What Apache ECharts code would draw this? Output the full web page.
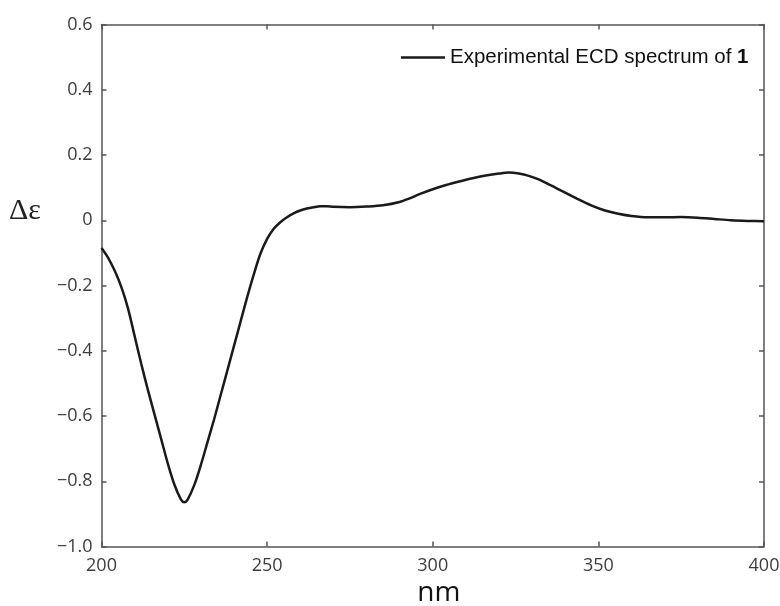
<!DOCTYPE html>
<html>
<head>
<meta charset="utf-8">
<script src="https://cdn.jsdelivr.net/npm/echarts@6/dist/echarts.min.js"></script>
<style>
html,body{margin:0;padding:0;background:#fff;}
#chart{width:780px;height:606px;}
</style>
</head>
<body>
<div id="chart"></div>
<script>
// Wavelength (nm)
const wavelengths = [200,202,204,206,208,210,212,214,216,218,220,222,224,225,226,228,230,232,234,236,238,240,242,244,246,248,250,252,254,256,258,260,262,264,266,268,270,275,280,285,290,293,296,300,304,308,312,316,320,323,326,329,332,336,340,344,348,352,356,360,365,370,375,380,385,390,395,400];
// Δε values
const deltaEps = [-0.085,-0.115,-0.155,-0.205,-0.27,-0.355,-0.44,-0.52,-0.595,-0.67,-0.745,-0.81,-0.856,-0.864,-0.856,-0.812,-0.75,-0.68,-0.61,-0.535,-0.46,-0.385,-0.31,-0.235,-0.165,-0.102,-0.057,-0.026,-0.006,0.009,0.021,0.03,0.036,0.04,0.043,0.043,0.041,0.040,0.042,0.046,0.056,0.067,0.08,0.095,0.108,0.119,0.129,0.137,0.143,0.146,0.143,0.136,0.125,0.105,0.085,0.064,0.045,0.03,0.02,0.013,0.009,0.009,0.010,0.008,0.004,0.000,-0.002,-0.003];
const xTicks = {min:200, max:400, interval:50};
const yTicks = {min:-1.0, max:0.6, interval:0.2};
const seriesName = 'Experimental ECD spectrum of 1';

const chart = echarts.init(document.getElementById('chart'), null, {renderer:'canvas'});
const axisColor = '#555';
const labelFont = {color:'#3d3d3d', fontSize:18, fontFamily:'"Open Sans", sans-serif'};
function fmtY(v){
  const r = Math.round(v*10)/10;
  if (Math.abs(r) < 1e-9) return '0';
  return (r<0?'\u2212':'') + Math.abs(r).toFixed(1);
}
const data = wavelengths.map((w,i)=>[w, deltaEps[i]]);
chart.setOption({
  backgroundColor:'#fff',
  animation:false,
  grid:{left:101.5, right:16, top:24.5, bottom:59.5, containLabel:false, outerBoundsMode:'none'},
  legend:{
    left:396, top:42, itemWidth:44, itemHeight:2.5, itemGap:10,
    icon:'rect',
    data:[seriesName],
    formatter: function(){ return '{n|Experimental ECD spectrum of }{b|1}'; },
    textStyle:{
      color:'#111', padding:[0,0,0,0],
      rich:{
        n:{fontSize:20.5, fontFamily:'"Liberation Sans", Arial, sans-serif', color:'#111', lineHeight:22},
        b:{fontSize:20.5, fontWeight:'bold', fontFamily:'"Liberation Sans", Arial, sans-serif', color:'#111', lineHeight:22}
      }
    }
  },
  xAxis:[{
    type:'value', position:'bottom', min:xTicks.min, max:xTicks.max, interval:xTicks.interval,
    axisLine:{show:true, onZero:false, lineStyle:{color:axisColor, width:1.5}},
    axisTick:{show:true, inside:true, length:5, lineStyle:{color:axisColor, width:1.5}},
    axisLabel:Object.assign({margin:10}, labelFont),
    splitLine:{show:false},
    name:'nm', nameLocation:'middle', nameGap:30,
    nameTextStyle:{fontSize:28, color:'#111', fontFamily:'"Open Sans", sans-serif', padding:[0,0,0,12]}
  },{
    type:'value', position:'top', min:xTicks.min, max:xTicks.max, interval:xTicks.interval,
    axisLine:{show:true, onZero:false, lineStyle:{color:axisColor, width:1.5}},
    axisTick:{show:true, inside:true, length:5, lineStyle:{color:axisColor, width:1.5}},
    axisLabel:{show:false}, splitLine:{show:false}
  }],
  yAxis:[{
    type:'value', position:'left', min:yTicks.min, max:yTicks.max, interval:yTicks.interval,
    axisLine:{show:true, onZero:false, lineStyle:{color:axisColor, width:1.5}},
    axisTick:{show:true, inside:true, length:5, lineStyle:{color:axisColor, width:1.5}},
    axisLabel:Object.assign({margin:9, formatter:fmtY}, labelFont),
    splitLine:{show:false}
  },{
    type:'value', position:'right', min:yTicks.min, max:yTicks.max, interval:yTicks.interval,
    axisLine:{show:true, onZero:false, lineStyle:{color:axisColor, width:1.5}},
    axisTick:{show:true, inside:true, length:5, lineStyle:{color:axisColor, width:1.5}},
    axisLabel:{show:false}, splitLine:{show:false}
  }],
  graphic:[{
    type:'text', left:9, top:196,
    style:{text:'\u0394\u03b5', fontSize:30, fontFamily:'"Liberation Serif","DejaVu Serif",serif', fill:'#222'}
  }],
  series:[{
    name:seriesName, type:'line', data:data, xAxisIndex:0, yAxisIndex:0,
    showSymbol:false, symbol:'none', smooth:0.3,
    lineStyle:{color:'#1a1a1a', width:2.5},
    itemStyle:{color:'#1a1a1a'}
  }]
});
</script>
</body>
</html>
